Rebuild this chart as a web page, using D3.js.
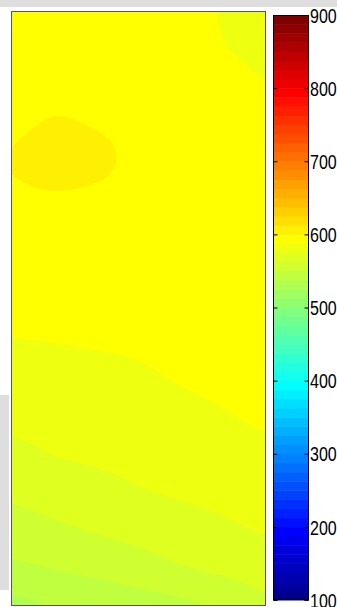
<!DOCTYPE html>
<html>
<head>
<meta charset="utf-8">
<script src="https://cdn.jsdelivr.net/npm/d3@7/dist/d3.min.js"></script>
<style>
  html, body { margin: 0; padding: 0; background: #fff; }
  svg { display: block; }
  .cbar-label { font-family: "Liberation Sans", Arial, sans-serif; font-size: 20px; fill: #000; }
</style>
</head>
<body>
<svg id="chart" width="337" height="607"></svg>
<script>
// Grid node coordinates (column / row indices of the measured field)
const gridX = [0, 1, 2, 3, 4, 5, 6];
const gridY = [0, 1, 2, 3, 4, 5, 6, 7, 8, 9, 10, 11, 12, 13, 14, 15, 16];

// Field values at each grid node, one row per gridY entry (top to bottom)
const row00 = [594, 595, 595, 593, 590, 587, 583];
const row01 = [595, 596, 596, 595, 592, 588, 585];
const row02 = [596, 597, 597, 596, 595, 592, 588];
const row03 = [597, 601, 599, 596, 595, 594, 592];
const row04 = [601, 610, 604, 596, 595, 595, 594];
const row05 = [597, 598, 597, 595, 595, 595, 595];
const row06 = [595, 595, 595, 595, 596, 596, 596];
const row07 = [594, 594, 595, 595, 596, 596, 596];
const row08 = [592, 592, 593, 594, 595, 595.5, 596];
const row09 = [586.3, 587.1, 588, 589, 591, 593, 595];
const row10 = [581.9, 583.0, 584.1, 585.5, 587.8, 590, 593];
const row11 = [577.5, 579.0, 580.4, 581.8, 583.9, 586.2, 588.8];
const row12 = [571.7, 574.8, 576.5, 578.1, 579.9, 581.9, 584.3];
const row13 = [564.6, 567.6, 570.6, 573.8, 576.0, 577.8, 579.9];
const row14 = [556.6, 559.8, 563.3, 566.3, 569.4, 572.5, 575.5];
const row15 = [547.4, 550.5, 553.3, 556.9, 561.4, 565.0, 568.1];
const row16 = [535.0, 538.5, 542.0, 545.3, 548.0, 552.7, 560.4];
const fieldRows = [row00, row01, row02, row03, row04, row05, row06, row07, row08,
                   row09, row10, row11, row12, row13, row14, row15, row16];

// Colour limits and colour-bar ticks
const colorLimits = [100, 900];
const cbarTicks = [100, 200, 300, 400, 500, 600, 700, 800, 900];
const nColors = 64;

// ---- layout ----
const plot = { left: 12, top: 12, right: 265, bottom: 605 };
const cbar = { left: 273, top: 15, right: 309, bottom: 600 };

const svg = d3.select("#chart");

// faint grey page bands
svg.append("rect").attr("x", 0).attr("y", 0).attr("width", 337).attr("height", 7).attr("fill", "#dedede");
svg.append("rect").attr("x", 0).attr("y", 395).attr("width", 9).attr("height", 195).attr("fill", "#dedede");

// ---- 64-step jet colormap ----
const ramp = [];
for (let i = 1; i <= 16; i++) ramp.push(i / 16);
for (let i = 0; i < 15; i++) ramp.push(1);
for (let i = 16; i >= 1; i--) ramp.push(i / 16);
function jet(idx) { // idx 1..64
  const r = idx >= 25 ? ramp[idx - 25] : 0;
  const g = (idx >= 9 && idx <= 55) ? ramp[idx - 9] : 0;
  const b = idx <= 39 ? ramp[idx + 7] : 0;
  return d3.rgb(Math.round(r * 255), Math.round(g * 255), Math.round(b * 255)).formatHex();
}
const step = (colorLimits[1] - colorLimits[0]) / nColors;
const thresholds = d3.range(nColors).map(k => colorLimits[0] + k * step);
const bandColor = d3.scaleQuantize().domain(colorLimits).range(d3.range(1, nColors + 1).map(jet));

// ---- interpolated (shaded) field, Catmull-Rom between grid nodes ----
const nCols = gridX.length, nRows = gridY.length;
function node(i, j) {
  i = Math.max(0, Math.min(nCols - 1, i));
  j = Math.max(0, Math.min(nRows - 1, j));
  return fieldRows[j][i];
}
function cr(p0, p1, p2, p3, t) {
  return 0.5 * ((2 * p1) + (-p0 + p2) * t + (2 * p0 - 5 * p1 + 4 * p2 - p3) * t * t + (-p0 + 3 * p1 - 3 * p2 + p3) * t * t * t);
}
function sampleField(u, v) { // u, v in grid units
  const i = Math.min(Math.floor(u), nCols - 2), j = Math.min(Math.floor(v), nRows - 2);
  const fu = u - i, fv = v - j;
  const cols = [-1, 0, 1, 2].map(dj => cr(node(i - 1, j + dj), node(i, j + dj), node(i + 1, j + dj), node(i + 2, j + dj), fu));
  return cr(cols[0], cols[1], cols[2], cols[3], fv);
}
const gx = d3.scaleLinear().domain(d3.extent(gridX)).range([0, nCols - 1]);
const gy = d3.scaleLinear().domain(d3.extent(gridY)).range([0, nRows - 1]);
const nx = 127, ny = 297;
const fine = new Float64Array(nx * ny);
const maxU = gx(d3.max(gridX)), maxV = gy(d3.max(gridY));
for (let j = 0; j < ny; j++) {
  for (let i = 0; i < nx; i++) {
    fine[j * nx + i] = sampleField((i + 0.5) / nx * maxU, (j + 0.5) / ny * maxV);
  }
}
const px = d3.scaleLinear().domain([0, nx]).range([plot.left, plot.right]);
const py = d3.scaleLinear().domain([0, ny]).range([plot.top, plot.bottom]);
const toPlot = d3.geoTransform({ point(x, y) { this.stream.point(px(x), py(y)); } });
const path = d3.geoPath(toPlot);

const bands = d3.contours().size([nx, ny]).thresholds(thresholds).smooth(true)(fine);

svg.append("clipPath").attr("id", "plotClip")
  .append("rect").attr("x", plot.left).attr("y", plot.top)
  .attr("width", plot.right - plot.left).attr("height", plot.bottom - plot.top);

svg.append("g").attr("clip-path", "url(#plotClip)")
  .selectAll("path").data(bands.filter(b => b.coordinates.length)).join("path")
  .attr("d", path)
  .attr("fill", b => bandColor(b.value + step / 2))
  .attr("stroke", b => bandColor(b.value + step / 2))
  .attr("stroke-width", 0.5);

// axes box
svg.append("rect")
  .attr("x", plot.left - 0.5).attr("y", plot.top - 0.5)
  .attr("width", plot.right - plot.left + 1).attr("height", plot.bottom - plot.top + 1)
  .attr("fill", "none").attr("stroke", "#555").attr("stroke-width", 1);

// ---- colour bar ----
const cy = d3.scaleLinear().domain(colorLimits).range([cbar.bottom, cbar.top]);
const cb = svg.append("g");
cb.selectAll("rect.band").data(thresholds).join("rect")
  .attr("class", "band")
  .attr("x", cbar.left).attr("width", cbar.right - cbar.left)
  .attr("y", t => cy(t + step))
  .attr("height", t => cy(t) - cy(t + step) + 0.5)
  .attr("fill", t => bandColor(t + step / 2));
cb.append("rect")
  .attr("x", cbar.left + 0.5).attr("y", cbar.top + 0.5)
  .attr("width", cbar.right - cbar.left - 1).attr("height", cbar.bottom - cbar.top - 1)
  .attr("fill", "none").attr("stroke", "#000").attr("stroke-width", 1);

const axisR = d3.axisRight(cy).tickValues(cbarTicks).tickSize(-4).tickFormat(d3.format("d"));
const axisG = svg.append("g").attr("transform", `translate(${cbar.right - 0.5},0)`).call(axisR);
axisG.select(".domain").remove();
axisG.selectAll("line").attr("stroke", "#000");
// condensed tick labels
axisG.selectAll("text")
  .attr("class", "cbar-label")
  .attr("x", 0).attr("dy", "0.36em")
  .attr("transform", "translate(1.5,0) scale(0.8,1)");

const axisL = d3.axisLeft(cy).tickValues(cbarTicks).tickSize(-4).tickFormat("");
const axisLG = svg.append("g").attr("transform", `translate(${cbar.left + 0.5},0)`).call(axisL);
axisLG.select(".domain").remove();
axisLG.selectAll("line").attr("stroke", "#000");
</script>
</body>
</html>
